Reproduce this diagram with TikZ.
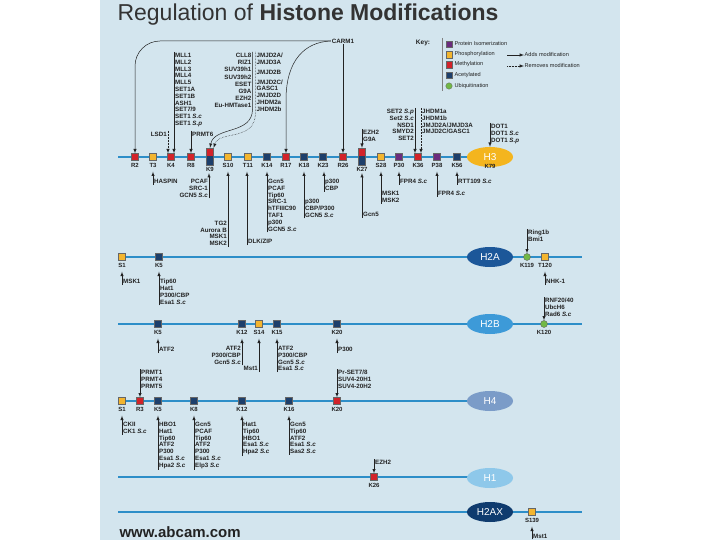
\documentclass[tikz,border=0pt]{standalone}
\usepackage{fontspec}
\setmainfont{Liberation Sans}
\usepackage{tikz}
\usetikzlibrary{shapes.geometric,arrows,positioning}

\definecolor{panel}{HTML}{D3E5EE}
\definecolor{hbar}{HTML}{2D8EC8}
\definecolor{ink}{HTML}{222222}
\definecolor{titlegray}{HTML}{333333}
\definecolor{mred}{HTML}{D2232A}
\definecolor{myel}{HTML}{F3B52F}
\definecolor{mblue}{HTML}{1D3F6B}
\definecolor{mpur}{HTML}{6B2C7E}
\definecolor{mgrn}{HTML}{72B845}
\definecolor{hthreec}{HTML}{F4B51E}
\definecolor{htwoac}{HTML}{1C5799}
\definecolor{htwobc}{HTML}{3D9AD8}
\definecolor{hfourc}{HTML}{7B9CC8}
\definecolor{honec}{HTML}{8EC8EA}
\definecolor{htwoaxc}{HTML}{0F3B6E}

\begin{document}
\begin{tikzpicture}[x=1pt, y=-1pt,
  lst/.style={font=\fontsize{6.2}{6.8}\selectfont\bfseries, text=ink, inner sep=1pt, align=left},
  res/.style={font=\fontsize{6}{7}\selectfont\bfseries, text=ink, inner sep=0.5pt},
  resq/.style={draw=black!60, line width=0.4pt, minimum size=7pt, inner sep=0pt, label={[res,label distance=1.5pt]below:#1}},
  redsq/.style={resq=#1, fill=mred},
  yelsq/.style={resq=#1, fill=myel},
  blusq/.style={resq=#1, fill=mblue},
  pursq/.style={resq=#1, fill=mpur},
  grnci/.style={resq=#1, circle, fill=mgrn},
  dualsq/.style={resq=#1, minimum width=7pt, minimum height=17pt, fill=mblue, path picture={\fill[mred] (path picture bounding box.north west) rectangle (path picture bounding box.east);}},
  hist/.style={ellipse, minimum width=46pt, minimum height=20pt, inner sep=0pt, text=white, font=\fontsize{10}{10}\selectfont},
  hline/.style={draw=hbar, line width=1.3pt},
  dn/.style={-latex, line width=0.5pt, draw=ink},
  rm/.style={dn, densely dotted},
  up/.style={dn, shorten >=11pt},
  keysq/.style={draw=black!60, line width=0.3pt, minimum size=6.5pt, inner sep=0pt},
  keytx/.style={font=\fontsize{5.6}{6}\selectfont, text=ink, inner sep=0.5pt}]
  \useasboundingbox (0,0) rectangle (720,540);
  \fill[white] (0,0) rectangle (720,540);
  \fill[panel] (100,0) rectangle (620,540);

  % title and key
  \node[text=titlegray, font=\fontsize{23}{25}\selectfont] (title) at (308,15) {Regulation of \textbf{Histone Modifications}};
  \node[font=\fontsize{6.5}{7}\selectfont\bfseries, text=ink] (key) at (423,43) {Key:};
  \coordinate (kbara) at (442,38); \coordinate (kbarb) at (442,91);
  \draw[black!50, line width=0.5pt] (kbara) -- (kbarb);
  \node[keysq, fill=mpur] (kpur) at (449,44) {};
  \node[keytx, right=1.5pt of kpur] (kpurt) {Protein Isomerization};
  \node[keysq, fill=myel] (kyel) at (449,54.5) {};
  \node[keytx, right=1.5pt of kyel] (kyelt) {Phosphorylation};
  \node[keysq, fill=mred] (kred) at (449,64.5) {};
  \node[keytx, right=1.5pt of kred] (kredt) {Methylation};
  \node[keysq, fill=mblue] (kblu) at (449,75) {};
  \node[keytx, right=1.5pt of kblu] (kblut) {Acetylated};
  \node[keysq, circle, fill=mgrn] (kgrn) at (449,86) {};
  \node[keytx, right=1.5pt of kgrn] (kgrnt) {Ubiquitination};
  \coordinate (adda) at (507,55);
  \node[keytx, anchor=west] (addt) at (524,55) {Adds modification};
  \draw[dn] (adda) -- (addt.west);
  \coordinate (rema) at (507,66);
  \node[keytx, anchor=west] (remt) at (524,66) {Removes modification};
  \draw[rm] (rema) -- (remt.west);

  % histone bars
  \coordinate (hthreea) at (118,157); \coordinate (hthreeb) at (490,157);
  \coordinate (htwoaa) at (118,257); \coordinate (htwoab) at (582,257);
  \coordinate (htwoba) at (118,324); \coordinate (htwobb) at (582,324);
  \coordinate (hfoura) at (118,401); \coordinate (hfourb) at (490,401);
  \coordinate (honea) at (118,477); \coordinate (honeb) at (490,477);
  \coordinate (htwoxa) at (118,512); \coordinate (htwoxb) at (582,512);
  \draw[hline] (hthreea) -- (hthreeb); \draw[hline] (htwoaa) -- (htwoab);
  \draw[hline] (htwoba) -- (htwobb); \draw[hline] (hfoura) -- (hfourb);
  \draw[hline] (honea) -- (honeb); \draw[hline] (htwoxa) -- (htwoxb);
  \node[hist, fill=hthreec] (hthree) at (490,157) {H3};
  \node[hist, fill=htwoac] (htwoa) at (490,257) {H2A};
  \node[hist, fill=htwobc] (htwob) at (490,324) {H2B};
  \node[hist, fill=hfourc] (hfour) at (490,401) {H4};
  \node[hist, fill=honec] (hone) at (490,478) {H1};
  \node[hist, fill=htwoaxc] (htwox) at (490,512) {H2AX};
  \node[res] (hthreek) at (490,166) {K79};

  % H3 residues
  \node[redsq=R2] (h3r2) at (135,157) {};
  \node[yelsq=T3] (h3t3) at (153,157) {};
  \node[redsq=K4] (h3k4) at (171,157) {};
  \node[redsq=R8] (h3r8) at (191,157) {};
  \node[dualsq=K9] (h3k9) at (210,156.5) {};
  \node[yelsq=S10] (h3s10) at (228,157) {};
  \node[yelsq=T11] (h3t11) at (248,157) {};
  \node[blusq=K14] (h3k14) at (267,157) {};
  \node[redsq=R17] (h3r17) at (286,157) {};
  \node[blusq=K18] (h3k18) at (304,157) {};
  \node[blusq=K23] (h3k23) at (323,157) {};
  \node[redsq=R26] (h3r26) at (343,157) {};
  \node[dualsq=K27] (h3k27) at (362,156.5) {};
  \node[yelsq=S28] (h3s28) at (381,157) {};
  \node[pursq=P30] (h3p30) at (399,157) {};
  \node[redsq=K36] (h3k36) at (418,157) {};
  \node[pursq=P38] (h3p38) at (437,157) {};
  \node[blusq=K56] (h3k56) at (457,157) {};

  % H3 enzymes above
  \node[lst] (carm) at (343,41) {CARM1};
  \draw[dn, rounded corners=25pt] (carm.west) -| (h3r2.north);
  \draw[dn] (carm.west) .. controls (305,42) and (286,60) .. (286,100) -- (h3r17.north);
  \draw[dn] (carm.south) -- (h3r26.north);
  \node[lst, anchor=north west] (mll) at (174,52) {MLL1\\MLL2\\MLL3\\MLL4\\MLL5\\SET1A\\SET1B\\ASH1\\SET7/9\\SET1 \textit{S.c}\\SET1 \textit{S.p}};
  \draw[dn] (mll.north west) -- (mll.north west |- h3k4.north);
  \node[lst, anchor=east] (lsd) at (168,134) {LSD1};
  \draw[rm] (lsd.north east) -- (lsd.north east |- h3k4.north);
  \node[lst, anchor=west] (prmtsix) at (191,134) {PRMT6};
  \draw[dn] (prmtsix.north west) -- (prmtsix.north west |- h3r8.north);
  \node[lst, align=right, anchor=north east, font=\fontsize{6.2}{7.2}\selectfont\bfseries] (cll) at (252.5,52) {CLL8\\RIZ1\\SUV39h1\\SUV39h2\\ESET\\G9A\\EZH2\\Eu-HMTase1};
  \draw[dn] (cll.north east) -- (cll.south east) .. controls (252.5,135) and (214,126) .. (h3k9.north);
  \node[lst, anchor=north west] (jmj) at (255.5,52) {JMJD2A/\\JMJD3A\\[3pt]JMJD2B\\[3pt]JMJD2C/\\GASC1\\JMJD2D\\JHDM2a\\JHDM2b};
  \draw[rm] (jmj.north west) -- (jmj.south west) .. controls (255.5,142) and (219,130) .. (h3k9.north east);
  \node[lst, anchor=north west] (ezh) at (362,129) {EZH2\\G9A};
  \draw[dn] (ezh.north west) -- (ezh.north west |- h3k27.north);
  \node[lst, align=right, anchor=north east] (settwo) at (415,108) {SET2 \textit{S.p}\\Set2 \textit{S.c}\\NSD1\\SMYD2\\SET2};
  \draw[dn] (settwo.north east) -- (settwo.north east |- h3k36.north);
  \node[lst, anchor=north west] (jhdm) at (421,108) {JHDM1a\\JHDM1b\\JMJD2A/JMJD3A\\JMJD2C/GASC1};
  \draw[rm] (jhdm.north west) -- (jhdm.north west |- h3k36.north);
  \node[lst, anchor=north west] (dot) at (490,123) {DOT1\\DOT1 \textit{S.c}\\DOT1 \textit{S.p}};
  \draw[dn] (dot.north west) -- (dot.north west |- hthree.north);

  % H3 enzymes below
  \node[lst, anchor=south west] (haspin) at (153,185) {HASPIN};
  \draw[up] (haspin.south west) -- (haspin.south west |- h3t3.south);
  \node[lst, align=right, anchor=north east] (pcaf) at (209,178) {PCAF\\SRC-1\\GCN5 \textit{S.c}};
  \draw[up, shorten >=8pt] (pcaf.south east) -- (pcaf.south east |- h3k9.south);
  \node[lst, align=right, anchor=south east] (tgtwo) at (228,247) {TG2\\Aurora B\\MSK1\\MSK2};
  \draw[up] (tgtwo.south east) -- (tgtwo.south east |- h3s10.south);
  \node[lst, anchor=south west] (dlk) at (247,245) {DLK/ZIP};
  \draw[up] (dlk.south west) -- (dlk.south west |- h3t11.south);
  \node[lst, anchor=north west] (gcnh) at (267,178) {Gcn5\\PCAF\\Tip60\\SRC-1\\hTFIIIC90\\TAF1\\p300\\GCN5 \textit{S.c}};
  \draw[up] (gcnh.south west) -- (gcnh.south west |- h3k14.south);
  \node[lst, anchor=north west] (pthree) at (304,198) {p300\\CBP/P300\\GCN5 \textit{S.c}};
  \draw[up] (pthree.south west) -- (pthree.south west |- h3k18.south);
  \node[lst, anchor=north west] (cbp) at (324,178) {p300\\CBP};
  \draw[up] (cbp.south west) -- (cbp.south west |- h3k23.south);
  \node[lst, anchor=south west] (gcnk) at (362,218) {Gcn5};
  \draw[up, shorten >=8pt] (gcnk.south west) -- (gcnk.south west |- h3k27.south);
  \node[lst, anchor=south west] (msk) at (381,204) {MSK1\\MSK2};
  \draw[up] (msk.south west) -- (msk.south west |- h3s28.south);
  \node[lst, anchor=south west] (fpra) at (399,185) {FPR4 \textit{S.c}};
  \draw[up] (fpra.south west) -- (fpra.south west |- h3p30.south);
  \node[lst, anchor=south west] (fprb) at (437,197) {FPR4 \textit{S.c}};
  \draw[up] (fprb.south west) -- (fprb.south west |- h3p38.south);
  \node[lst, anchor=south west] (rtt) at (457,185) {RTT109 \textit{S.c}};
  \draw[up] (rtt.south west) -- (rtt.south west |- h3k56.south);

  % H2A
  \node[yelsq=S1] (h2as1) at (122,257) {};
  \node[blusq=K5] (h2ak5) at (159,257) {};
  \node[grnci=K119] (h2ak119) at (527,257) {};
  \node[yelsq=T120] (h2at120) at (545,257) {};
  \node[lst, anchor=north west] (ring) at (527,229) {Ring1b\\Bmi1};
  \draw[dn] (ring.north west) -- (ring.north west |- h2ak119.north);
  \node[lst, anchor=south west] (mska) at (122,285) {MSK1};
  \draw[up] (mska.south west) -- (mska.south west |- h2as1.south);
  \node[lst, anchor=north west] (tipa) at (159,278) {Tip60\\Hat1\\P300/CBP\\Esa1 \textit{S.c}};
  \draw[up] (tipa.south west) -- (tipa.south west |- h2ak5.south);
  \node[lst, anchor=south west] (nhk) at (545,285) {NHK-1};
  \draw[up] (nhk.south west) -- (nhk.south west |- h2at120.south);

  % H2B
  \node[blusq=K5] (h2bk5) at (158,324) {};
  \node[blusq=K12] (h2bk12) at (242,324) {};
  \node[yelsq=S14] (h2bs14) at (259,324) {};
  \node[blusq=K15] (h2bk15) at (277,324) {};
  \node[blusq=K20] (h2bk20) at (337,324) {};
  \node[grnci=K120] (h2bk120) at (544,324) {};
  \node[lst, anchor=north west] (rnf) at (544,297) {RNF20/40\\UbcH6\\Rad6 \textit{S.c}};
  \draw[dn] (rnf.north west) -- (rnf.north west |- h2bk120.north);
  \node[lst, anchor=south west] (atfa) at (158,353) {ATF2};
  \draw[up] (atfa.south west) -- (atfa.south west |- h2bk5.south);
  \node[lst, align=right, anchor=north east] (atfb) at (242,345) {ATF2\\P300/CBP\\Gcn5 \textit{S.c}};
  \draw[up] (atfb.south east) -- (atfb.south east |- h2bk12.south);
  \node[lst, anchor=south east] (msta) at (259,372) {Mst1};
  \draw[up] (msta.south east) -- (msta.south east |- h2bs14.south);
  \node[lst, anchor=north west] (atfc) at (277,345) {ATF2\\P300/CBP\\Gcn5 \textit{S.c}\\Esa1 \textit{S.c}};
  \draw[up] (atfc.south west) -- (atfc.south west |- h2bk15.south);
  \node[lst, anchor=south west] (pthb) at (337,353) {P300};
  \draw[up] (pthb.south west) -- (pthb.south west |- h2bk20.south);

  % H4
  \node[yelsq=S1] (h4s1) at (122,401) {};
  \node[redsq=R3] (h4r3) at (140,401) {};
  \node[blusq=K5] (h4k5) at (158,401) {};
  \node[blusq=K8] (h4k8) at (194,401) {};
  \node[blusq=K12] (h4k12) at (242,401) {};
  \node[blusq=K16] (h4k16) at (289,401) {};
  \node[redsq=K20] (h4k20) at (337,401) {};
  \node[lst, anchor=north west] (prmt) at (140,369) {PRMT1\\PRMT4\\PRMT5};
  \draw[dn] (prmt.north west) -- (prmt.north west |- h4r3.north);
  \node[lst, anchor=north west] (prset) at (337,369) {Pr-SET7/8\\SUV4-20H1\\SUV4-20H2};
  \draw[dn] (prset.north west) -- (prset.north west |- h4k20.north);
  \node[lst, anchor=north west] (ckii) at (122,421) {CKII\\CK1 \textit{S.c}};
  \draw[up] (ckii.south west) -- (ckii.south west |- h4s1.south);
  \node[lst, anchor=north west] (hboa) at (158,421) {HBO1\\Hat1\\Tip60\\ATF2\\P300\\Esa1 \textit{S.c}\\Hpa2 \textit{S.c}};
  \draw[up] (hboa.south west) -- (hboa.south west |- h4k5.south);
  \node[lst, anchor=north west] (gcnb) at (194,421) {Gcn5\\PCAF\\Tip60\\ATF2\\P300\\Esa1 \textit{S.c}\\Elp3 \textit{S.c}};
  \draw[up] (gcnb.south west) -- (gcnb.south west |- h4k8.south);
  \node[lst, anchor=north west] (hatb) at (242,421) {Hat1\\Tip60\\HBO1\\Esa1 \textit{S.c}\\Hpa2 \textit{S.c}};
  \draw[up] (hatb.south west) -- (hatb.south west |- h4k12.south);
  \node[lst, anchor=north west] (gcnc) at (289,421) {Gcn5\\Tip60\\ATF2\\Esa1 \textit{S.c}\\Sas2 \textit{S.c}};
  \draw[up] (gcnc.south west) -- (gcnc.south west |- h4k16.south);

  % H1 and H2AX
  \node[redsq=K26] (h1k26) at (374,477) {};
  \node[lst, anchor=north west] (ezhb) at (374,459) {EZH2};
  \draw[dn] (ezhb.north west) -- (ezhb.north west |- h1k26.north);
  \node[yelsq=S139] (h2xs139) at (532,512) {};
  \node[lst, anchor=west] (mstb) at (532,536) {Mst1};
  \draw[up] (mstb.south west) -- (mstb.south west |- h2xs139.south);

  \node[anchor=west, text=ink, font=\fontsize{15}{16}\selectfont\bfseries] (web) at (116,532) {www.abcam.com};
\end{tikzpicture}
\end{document}
